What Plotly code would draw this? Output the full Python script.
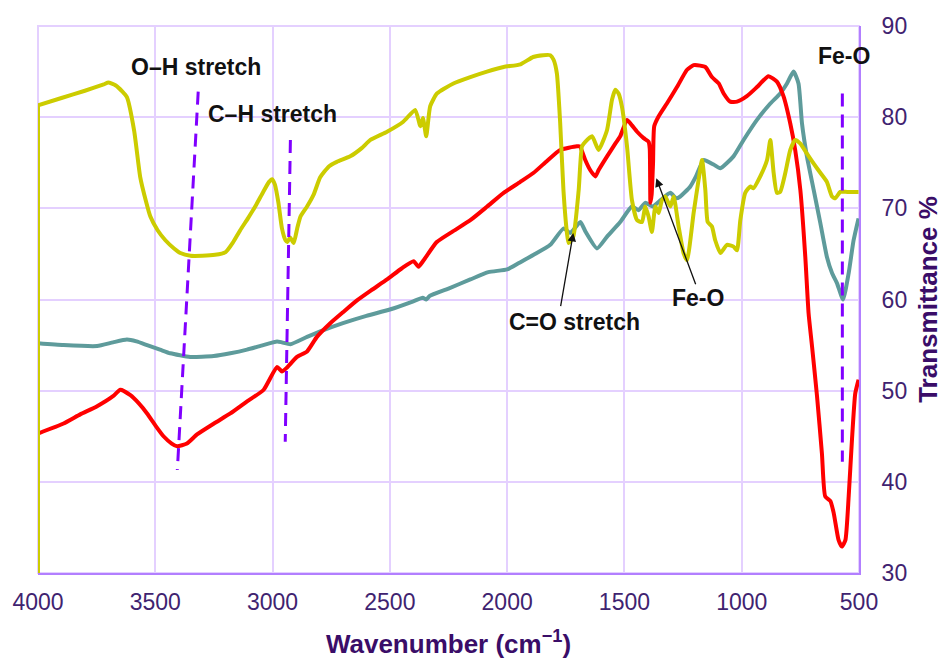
import plotly.graph_objects as go

# FTIR spectra (wavenumber in cm^-1, transmittance in %)
yellow_wn = [4000, 4000, 3900, 3800, 3720, 3700, 3670, 3640, 3621, 3590, 3564, 3540, 3521, 3490, 3457,
             3420, 3393, 3350, 3300, 3245, 3200, 3170, 3138, 3105, 3074, 3040, 3015, 3002, 2990, 2975,
             2960, 2945, 2937, 2925, 2910, 2895, 2881, 2853, 2825, 2797, 2760, 2726, 2669, 2620, 2583,
             2512, 2443, 2392, 2370, 2359, 2345, 2328, 2299, 2229, 2157, 2086, 2015, 1943, 1889, 1846,
             1816, 1802, 1788, 1774, 1760, 1745, 1738, 1718, 1695, 1681, 1667, 1638, 1610, 1574, 1553,
             1539, 1525, 1511, 1489, 1468, 1446, 1425, 1411, 1397, 1383, 1368, 1354, 1340, 1326, 1304,
             1290, 1269, 1248, 1233, 1205, 1184, 1169, 1155, 1145, 1127, 1113, 1091, 1063, 1035, 1020,
             1006, 985, 963, 950, 921, 892, 878, 864, 850, 836, 814, 793, 772, 750, 722, 693, 665, 637,
             615, 601, 580, 550, 502]
yellow_t = [0, 81.3, 82.1, 82.9, 83.6, 83.8, 83.5, 82.8, 82.2, 78.5, 73.4, 70.8, 69.1, 67.6, 66.5,
            65.6, 65.1, 64.8, 64.8, 64.9, 65.2, 66.2, 67.6, 68.9, 70.2, 71.8, 72.9, 73.2, 72.6, 70.6,
            67.8, 66.5, 66.3, 66.8, 66.2, 67.8, 69.1, 70.2, 71.5, 73.4, 74.6, 75.1, 75.7, 76.6, 77.5,
            78.4, 79.5, 80.8, 79.0, 79.9, 77.9, 81.2, 82.6, 83.7, 84.4, 85.0, 85.5, 85.8, 86.6, 86.8,
            86.8, 86.3, 84.8, 79.4, 72.0, 67.3, 66.2, 66.9, 72.0, 76.8, 77.3, 77.9, 76.4, 78.6, 81.9,
            83.0, 82.6, 81.2, 76.8, 70.9, 68.7, 68.5, 70.2, 69.1, 67.4, 70.2, 69.5, 70.9, 71.3, 70.2,
            71.3, 68.0, 65.1, 64.3, 69.5, 73.1, 75.3, 72.0, 68.5, 68.0, 66.5, 65.1, 66.0, 65.8, 65.4,
            68.7, 71.7, 72.4, 72.2, 73.5, 75.3, 77.5, 73.9, 71.7, 71.8, 73.9, 76.4, 77.5, 77.1, 76.0,
            74.9, 73.9, 72.9, 71.3, 71.1, 71.8, 71.8, 71.8]

red_wn = [4000, 4000, 3891, 3820, 3748, 3680, 3649, 3606, 3570, 3535, 3500, 3465, 3430, 3407, 3365,
          3322, 3250, 3180, 3110, 3038, 2981, 2960, 2940, 2896, 2853, 2811, 2754, 2700, 2640, 2580,
          2512, 2450, 2399, 2378, 2356, 2300, 2230, 2157, 2085, 2015, 1944, 1887, 1830, 1774, 1703,
          1690, 1667, 1646, 1624, 1610, 1574, 1539, 1518, 1489, 1468, 1446, 1418, 1397, 1392, 1389,
          1384, 1378, 1373, 1354, 1319, 1276, 1233, 1205, 1190, 1155, 1127, 1098, 1077, 1049, 1020,
          978, 935, 886, 850, 822, 793, 772, 750, 729, 715, 700, 679, 658, 644, 622, 608, 587, 573,
          558, 544, 530, 516, 502]
red_t = [0, 45.3, 46.4, 47.4, 48.3, 49.4, 50.1, 49.5, 48.6, 47.5, 46.2, 45.0, 44.2, 43.9, 44.2,
         45.2, 46.4, 47.5, 48.8, 50.1, 52.6, 52.1, 52.5, 53.7, 54.3, 55.9, 57.4, 58.6, 59.9, 61.0,
         62.2, 63.4, 64.2, 63.6, 64.3, 66.3, 67.5, 68.7, 70.2, 71.7, 72.9, 73.9, 75.2, 76.4, 76.8,
         76.8, 75.3, 74.2, 73.5, 74.2, 75.7, 77.1, 77.9, 79.7, 79.1, 78.4, 77.7, 77.3, 76.5, 70.6,
         71.5, 75.0, 79.0, 80.1, 81.5, 83.3, 85.2, 85.7, 85.7, 85.5, 84.4, 83.7, 82.6, 81.7, 81.7,
         82.3, 83.3, 84.5, 83.9, 82.3, 79.3, 76.4, 72.0, 64.7, 58.5, 54.8, 49.4, 43.1, 38.4, 37.9,
         36.6, 33.6, 32.9, 33.6, 38.4, 44.6, 49.7, 51.2]

teal_wn = [4000, 4000, 3891, 3748, 3680, 3621, 3580, 3535, 3480, 3436, 3351, 3251, 3180, 3109, 3040,
           2981, 2960, 2924, 2853, 2797, 2700, 2600, 2500, 2400, 2360, 2345, 2330, 2250, 2157, 2080,
           2000, 1950, 1887, 1816, 1759, 1731, 1688, 1665, 1617, 1574, 1518, 1468, 1440, 1411, 1380,
           1346, 1304, 1280, 1262, 1219, 1195, 1162, 1120, 1091, 1035, 992, 935, 878, 836, 807, 779,
           758, 743, 722, 693, 665, 637, 615, 594, 568, 544, 523, 502]
teal_t = [0, 55.2, 55.0, 54.9, 55.3, 55.6, 55.4, 55.0, 54.5, 54.1, 53.7, 53.8, 54.1, 54.5, 55.0,
          55.4, 55.3, 55.1, 55.9, 56.5, 57.4, 58.2, 58.9, 59.8, 60.2, 60.0, 60.4, 61.2, 62.2, 63.0,
          63.3, 64.0, 64.9, 66.0, 67.8, 67.3, 68.5, 67.4, 65.6, 66.9, 68.5, 70.2, 69.8, 70.6, 70.2,
          70.9, 71.7, 71.1, 71.3, 72.4, 73.5, 75.3, 74.8, 74.4, 75.7, 77.5, 79.7, 81.5, 82.6, 83.7,
          85.0, 83.7, 79.3, 75.7, 72.0, 68.4, 64.7, 62.9, 61.8, 60.0, 62.9, 66.5, 68.9]

# Band marker lines (endpoints in wavenumber / transmittance)
oh_wn, oh_t = [3317, 3406], [82.8, 41.3]
ch_wn, ch_t = [2924, 2946], [77.5, 44.4]
feo_wn, feo_t = [571, 571], [82.6, 42.2]

x_ticks = [4000, 3500, 3000, 2500, 2000, 1500, 1000, 500]
y_ticks = [30, 40, 50, 60, 70, 80, 90]

FONT = "Liberation Sans, Arial, sans-serif"
TICK_COLOR = "#3f2370"
TITLE_COLOR = "#3a0d68"
GRID = "#e4d0ff"
AXIS = "#b27fff"
MARK = "#8000ff"

fig = go.Figure()
for xs, ys, col in [(teal_wn, teal_t, "#5e9b9b"),
                    (red_wn, red_t, "#ff0000"),
                    (yellow_wn, yellow_t, "#cccc00")]:
    # the scan starts from zero at 4000 cm^-1: straight edge segment
    fig.add_trace(go.Scatter(x=xs[:2], y=ys[:2], mode="lines",
                             line=dict(color=col, width=4), showlegend=False))
    fig.add_trace(go.Scatter(x=xs[1:], y=ys[1:], mode="lines",
                             line=dict(color=col, width=4, shape="spline", smoothing=0.5),
                             showlegend=False))

for xs, ys in [(oh_wn, oh_t), (ch_wn, ch_t), (feo_wn, feo_t)]:
    fig.add_trace(go.Scatter(x=xs, y=ys, mode="lines",
                             line=dict(color=MARK, width=3, dash="13px,8px"),
                             showlegend=False))

label_font = dict(family=FONT, size=23, color="#111111")


def label(text, x, y):
    fig.add_annotation(x=x, y=y, text="<b>%s</b>" % text, showarrow=False,
                       font=label_font, xref="x", yref="y")


def arrow(x, y, ax, ay):
    fig.add_annotation(x=x, y=y, ax=ax, ay=ay, axref="x", ayref="y", text="",
                       showarrow=True, arrowhead=2, arrowsize=1.3, arrowwidth=1.3,
                       arrowcolor="#111111", xref="x", yref="y")


label("O–H stretch", 3325, 85.5)
label("C–H stretch", 2999, 80.35)
label("Fe-O", 563, 86.7)
label("C=O stretch", 1714, 57.55)
label("Fe-O", 1185, 60.2)
arrow(1718, 67.3, 1773, 59.1)
arrow(1364, 73.3, 1194, 61.5)

fig.update_layout(
    width=945, height=659,
    margin=dict(l=38, r=86, t=26, b=86),
    paper_bgcolor="white", plot_bgcolor="white",
    font=dict(family=FONT),
)
fig.update_xaxes(
    range=[4000, 500], tickvals=x_ticks, ticktext=[str(v) for v in x_ticks],
    showgrid=True, gridcolor=GRID, gridwidth=2, zeroline=False,
    showline=True, linecolor=AXIS, linewidth=2, mirror=False,
    ticks="", ticklabelstandoff=7, automargin=False,
    tickfont=dict(family=FONT, size=23, color=TICK_COLOR),
    title=dict(text="<b>Wavenumber (cm<sup>−1</sup>)</b>", standoff=22,
               font=dict(family=FONT, size=26, color=TITLE_COLOR)),
)
fig.update_yaxes(
    range=[30, 90], tickvals=y_ticks, side="right",
    showgrid=True, gridcolor=GRID, gridwidth=2, zeroline=False,
    showline=True, linecolor=AXIS, linewidth=2,
    ticks="", ticklabelstandoff=16, automargin=False,
    tickfont=dict(family=FONT, size=23, color=TICK_COLOR),
    title=dict(text="<b>Transmittance %</b>", standoff=13,
               font=dict(family=FONT, size=26, color=TITLE_COLOR)),
)
# light frame on the top and left edges
fig.add_shape(type="rect", xref="paper", yref="paper", x0=0, y0=0, x1=1, y1=1,
              line=dict(color=GRID, width=2), layer="below")

fig.write_html("out.html")
